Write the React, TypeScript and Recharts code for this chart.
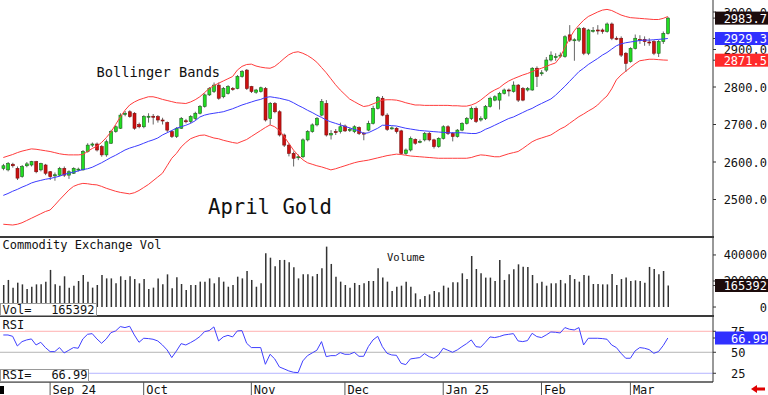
import React from "react";
import { ComposedChart, Bar, Line, XAxis, YAxis, ReferenceLine } from "recharts";

// daily April gold futures, Aug 2024 - Mar 2025
const OPEN = [
  2583, 2579, 2594, 2583, 2561, 2590, 2592, 2601, 2579, 2592,
  2574, 2563, 2565, 2583, 2565, 2570, 2579, 2579, 2628, 2645,
  2648, 2641, 2619, 2650, 2681, 2690, 2727, 2734, 2730, 2700,
  2694, 2721, 2722, 2721, 2712, 2705, 2681, 2668, 2690, 2710,
  2708, 2716, 2730, 2748, 2779, 2788, 2805, 2774, 2783, 2796,
  2796, 2828, 2845, 2801, 2786, 2788, 2796, 2716, 2756, 2734,
  2672, 2645, 2623, 2612, 2614, 2659, 2681, 2699, 2725, 2756,
  2672, 2681, 2681, 2696, 2685, 2681, 2692, 2677, 2685, 2703,
  2743, 2770, 2725, 2689, 2690, 2683, 2623, 2632, 2660, 2653,
  2659, 2676, 2659, 2641, 2663, 2694, 2676, 2668, 2685, 2703,
  2716, 2743, 2712, 2716, 2748, 2765, 2765, 2783, 2792, 2788,
  2805, 2796, 2792, 2792, 2850, 2836, 2845, 2872, 2880, 2883,
  2881, 2939, 2925, 2925, 2956, 2890, 2950, 2952, 2952, 2948,
  2968, 2930, 2930, 2890, 2868, 2903, 2927, 2927, 2920, 2921,
  2890, 2921, 2943,
];
const HIGH = [
  2595, 2600, 2598, 2588, 2592, 2600, 2603, 2603, 2598, 2595,
  2576, 2572, 2587, 2588, 2578, 2586, 2585, 2632, 2650, 2652,
  2652, 2645, 2660, 2686, 2698, 2730, 2736, 2738, 2733, 2705,
  2725, 2730, 2728, 2725, 2718, 2708, 2685, 2693, 2720, 2715,
  2725, 2734, 2752, 2783, 2800, 2812, 2812, 2800, 2805, 2800,
  2832, 2845, 2848, 2803, 2795, 2801, 2800, 2760, 2760, 2738,
  2676, 2650, 2628, 2620, 2663, 2685, 2703, 2720, 2768, 2765,
  2685, 2688, 2705, 2700, 2692, 2698, 2695, 2680, 2710, 2750,
  2776, 2776, 2730, 2695, 2693, 2686, 2636, 2668, 2663, 2660,
  2680, 2680, 2662, 2666, 2698, 2698, 2680, 2688, 2706, 2720,
  2748, 2748, 2722, 2752, 2774, 2778, 2787, 2796, 2796, 2815,
  2808, 2800, 2800, 2853, 2855, 2845, 2880, 2895, 2890, 2892,
  2938, 2965, 2930, 2960, 2960, 2955, 2960, 2965, 2956, 2972,
  2972, 2935, 2935, 2893, 2906, 2940, 2938, 2935, 2930, 2925,
  2926, 2948, 2987,
];
const LOW = [
  2578, 2575, 2585, 2552, 2558, 2586, 2588, 2570, 2575, 2565,
  2552, 2550, 2562, 2560, 2555, 2568, 2575, 2577, 2625, 2640,
  2628, 2614, 2614, 2648, 2678, 2688, 2722, 2718, 2686, 2690,
  2690, 2705, 2700, 2705, 2700, 2680, 2664, 2664, 2688, 2703,
  2703, 2712, 2727, 2745, 2776, 2784, 2766, 2770, 2780, 2790,
  2794, 2825, 2792, 2784, 2782, 2785, 2708, 2699, 2730, 2668,
  2640, 2615, 2588, 2605, 2610, 2655, 2678, 2695, 2722, 2668,
  2660, 2672, 2676, 2680, 2680, 2677, 2672, 2658, 2682, 2700,
  2740, 2722, 2683, 2686, 2676, 2620, 2619, 2628, 2646, 2650,
  2655, 2655, 2636, 2638, 2660, 2672, 2655, 2665, 2682, 2700,
  2712, 2704, 2708, 2712, 2745, 2762, 2740, 2780, 2775, 2785,
  2760, 2762, 2788, 2790, 2800, 2830, 2840, 2868, 2870, 2878,
  2878, 2920, 2870, 2920, 2885, 2885, 2945, 2940, 2942, 2945,
  2925, 2925, 2880, 2840, 2865, 2900, 2915, 2910, 2910, 2885,
  2880, 2915, 2940,
];
const CLOSE = [
  2590, 2596, 2590, 2557, 2588, 2595, 2601, 2574, 2596, 2570,
  2561, 2566, 2583, 2565, 2574, 2583, 2581, 2628, 2645, 2648,
  2632, 2619, 2654, 2681, 2694, 2725, 2730, 2721, 2690, 2694,
  2721, 2722, 2720, 2712, 2710, 2685, 2668, 2690, 2716, 2708,
  2721, 2730, 2748, 2779, 2796, 2805, 2770, 2796, 2801, 2794,
  2828, 2841, 2796, 2788, 2792, 2798, 2712, 2756, 2734, 2672,
  2645, 2623, 2610, 2614, 2659, 2681, 2699, 2716, 2761, 2672,
  2676, 2679, 2694, 2683, 2687, 2694, 2676, 2676, 2703, 2743,
  2772, 2725, 2687, 2691, 2681, 2623, 2632, 2663, 2650, 2655,
  2676, 2659, 2641, 2663, 2694, 2676, 2668, 2685, 2703, 2716,
  2743, 2708, 2716, 2748, 2770, 2774, 2783, 2792, 2790, 2805,
  2765, 2765, 2796, 2850, 2828, 2838, 2872, 2885, 2881, 2885,
  2934, 2925, 2926, 2956, 2890, 2952, 2951, 2950, 2948, 2968,
  2930, 2929, 2885, 2863, 2903, 2930, 2925, 2921, 2918, 2890,
  2921, 2943, 2983.7,
];
const UPPER = [
  2612, 2616, 2620, 2625, 2629, 2632, 2635, 2634, 2632, 2630,
  2628, 2625, 2622, 2620, 2619, 2619, 2619, 2620, 2628, 2636,
  2642, 2652, 2665, 2680, 2700, 2720, 2738, 2752, 2760, 2766,
  2770, 2774, 2774, 2771, 2767, 2764, 2761, 2758, 2757, 2756,
  2760, 2766, 2774, 2785, 2796, 2804, 2810, 2816, 2822, 2828,
  2845, 2855, 2860, 2861, 2856, 2853, 2851, 2850, 2855, 2865,
  2876, 2886, 2892, 2894, 2890, 2884, 2876, 2866, 2852, 2838,
  2822, 2806, 2792, 2780, 2768, 2761, 2754, 2748, 2750, 2755,
  2760, 2765, 2766, 2766, 2765, 2762, 2758, 2755, 2752, 2752,
  2751, 2751, 2751, 2751, 2751, 2751, 2750, 2750, 2749, 2749,
  2752, 2757, 2765, 2775, 2785, 2792, 2798, 2808, 2816, 2822,
  2827, 2832, 2836, 2841, 2846, 2850, 2855, 2860, 2864, 2880,
  2905, 2930, 2950, 2965, 2978, 2988, 2994, 3000, 3005, 3007,
  3004, 2998, 2992, 2988, 2985, 2984, 2983, 2982, 2981, 2980,
  2980, 2983, 2988,
];
const MIDDLE = [
  2511, 2516, 2522, 2527, 2533, 2538, 2544, 2548, 2551, 2554,
  2556, 2559, 2562, 2567, 2570, 2573, 2576, 2580, 2582, 2586,
  2592, 2598, 2605, 2612, 2618, 2625, 2632, 2637, 2641, 2645,
  2650, 2655, 2659, 2664, 2672, 2678, 2684, 2690, 2694, 2698,
  2703, 2710, 2720, 2725, 2728, 2730, 2732, 2734, 2738, 2742,
  2747, 2752, 2756, 2760, 2764, 2767, 2772, 2774, 2772, 2770,
  2767, 2764, 2758, 2751, 2745, 2738, 2732, 2725, 2719, 2712,
  2707, 2703, 2699, 2695, 2691, 2687, 2683, 2676, 2678, 2684,
  2690, 2698, 2698, 2697, 2696, 2693, 2690, 2688, 2686, 2684,
  2683, 2682, 2681, 2680, 2679, 2678, 2678, 2678, 2678, 2677,
  2676, 2676, 2680, 2687, 2692, 2698, 2704, 2710, 2716, 2720,
  2726, 2732, 2738, 2743, 2750, 2756, 2762, 2768, 2778, 2790,
  2802, 2815, 2828, 2841, 2850, 2860, 2868, 2876, 2885, 2892,
  2901, 2910, 2915, 2918, 2920, 2922, 2924, 2925, 2925, 2926,
  2927, 2928, 2929.3,
];
const LOWER = [
  2434, 2433, 2432, 2434, 2438, 2444, 2450, 2456, 2462, 2468,
  2472, 2485, 2499, 2512, 2525, 2535, 2540, 2543, 2542, 2540,
  2539, 2535, 2530, 2526, 2522, 2519, 2517, 2515, 2518, 2524,
  2532, 2540, 2550, 2560, 2570, 2590, 2610, 2623, 2640, 2652,
  2662, 2667, 2671, 2672, 2668, 2664, 2662, 2658, 2655, 2652,
  2650, 2655, 2660, 2668, 2676, 2684, 2692, 2699, 2694, 2684,
  2668, 2650, 2632, 2618, 2606, 2598, 2594, 2590, 2587, 2583,
  2579, 2582, 2586, 2590, 2594, 2598, 2601, 2603, 2605, 2608,
  2611, 2614, 2617, 2619, 2621, 2620, 2618, 2616, 2615, 2614,
  2613, 2612, 2611, 2610, 2610, 2610, 2610, 2610, 2610, 2610,
  2612, 2616, 2619, 2618, 2616, 2614, 2614, 2618, 2622, 2625,
  2628, 2636, 2645, 2654, 2660, 2664, 2668, 2672, 2680, 2688,
  2694, 2703, 2712, 2721, 2728, 2736, 2743, 2752, 2765, 2776,
  2795, 2819, 2832, 2842, 2852, 2862, 2870, 2872, 2874, 2874,
  2873, 2872, 2871.5,
];
const VOLUME = [
  169000, 208000, 149000, 187000, 174000, 138000, 156000, 174000, 174000, 195000,
  285000, 174000, 164000, 236000, 149000, 164000, 200000, 246000, 195000, 149000,
  169000, 246000, 220000, 220000, 182000, 236000, 208000, 236000, 215000, 182000,
  215000, 138000, 149000, 220000, 174000, 251000, 144000, 228000, 177000, 131000,
  169000, 169000, 195000, 195000, 220000, 182000, 228000, 195000, 156000, 169000,
  233000, 220000, 277000, 208000, 156000, 182000, 413000, 379000, 313000, 362000,
  362000, 344000, 305000, 220000, 251000, 251000, 236000, 254000, 297000, 464000,
  331000, 233000, 195000, 169000, 149000, 185000, 169000, 182000, 200000, 200000,
  297000, 226000, 195000, 123000, 156000, 164000, 195000, 156000, 105000, 59000,
  85000, 97000, 123000, 113000, 164000, 149000, 190000, 190000, 259000, 215000,
  392000, 292000, 259000, 226000, 226000, 200000, 362000, 208000, 251000, 290000,
  328000, 310000, 308000, 246000, 182000, 195000, 164000, 182000, 182000, 208000,
  182000, 246000, 215000, 195000, 246000, 241000, 177000, 177000, 174000, 174000,
  254000, 169000, 215000, 226000, 200000, 205000, 200000, 187000, 308000, 292000,
  251000, 277000, 165392,
];
const RSI = [
  70.6, 70.6, 69, 57.5, 62.7, 64.7, 65.9, 58.7, 61.9, 55.6,
  50.8, 50.8, 55.6, 49.2, 52.4, 55.6, 54.8, 65.9, 71.4, 72.2,
  65.9, 60.7, 65.9, 73.4, 75.4, 80.6, 79.4, 81, 70.6, 61.9,
  66.7, 66.3, 65.5, 63.5, 58.7, 52.8, 43.7, 51.6, 60.3, 58.7,
  61.5, 64.7, 68.7, 74.6, 75.8, 80.2, 63.5, 68.3, 70.2, 68.3,
  75.4, 75.8, 60.7, 55.6, 55.6, 55.6, 35.7, 47.6, 42.1, 32.5,
  30.2, 27.8, 26.2, 25.8, 39.7, 46, 49.2, 52.4, 62.7, 44.8,
  46, 46, 49.6, 47.6, 47.6, 50, 45.2, 45.2, 56.7, 64.7,
  69, 56.7, 48.8, 46.8, 46.4, 36.9, 35.3, 42.1, 42.9, 43.7,
  48.4, 44.8, 42.9, 46.8, 54.8, 52.4, 50, 52.8, 56.7, 60.3,
  64.7, 56.7, 56, 61.9, 68.3, 67.5, 68.7, 70.6, 71.4, 72.2,
  63.5, 62.7, 63.9, 72.6, 68.7, 67.5, 70.6, 74.2, 73.8, 73,
  79.4, 77.4, 76.6, 79.4, 58.7, 66.7, 66.7, 66.7, 66.3, 65.5,
  58.7, 55.6, 48.8, 42.9, 42.9, 51.6, 55.6, 54.8, 53.2, 48.8,
  50.8, 57.9, 66.99,
];

// index of first session of each month
const MONTH_TICKS = [10, 30, 53, 73, 94, 115, 134];
const MONTH_LABELS = ["Sep 24", "Oct", "Nov", "Dec", "Jan 25", "Feb", "Mar"];
const PRICE_TICKS = [2500, 2600, 2700, 2800, 2900, 3000];
const PRICE_TAGS = [2983.7, 2929.3, 2871.5];
const VOL_TICKS = [0, 200000, 400000];
const VOL_TAGS = [165392];
const RSI_TICKS = [25, 50, 75];
const RSI_TAGS = [66.99];

const data = OPEN.map((o, i) => ({
  i,
  open: o,
  high: HIGH[i],
  low: LOW[i],
  close: CLOSE[i],
  upper: UPPER[i],
  middle: MIDDLE[i],
  lower: LOWER[i],
  volume: VOLUME[i],
  rsi: RSI[i],
}));

const FONT = "'DejaVu Sans Mono', monospace";
const X_DOMAIN: [number, number] = [-0.705, 151.65];
const PRICE_DOMAIN: [number, number] = [2400, 3032];
const VOL_DOMAIN: [number, number] = [-69000, 538000];
const RSI_DOMAIN: [number, number] = [14.6, 93.2];
const MARGIN = { top: 0, right: 0, bottom: 0, left: 0 };
const BAND_RED = "#ff3c3c";
const MID_BLUE = "#3c3cff";

// evenly spaced minor tick marks for the axis edges
const steps = (lo: number, hi: number, step: number) => {
  const out: number[] = [];
  for (let v = Math.ceil(lo / step) * step; v <= hi; v += step) out.push(v);
  return out;
};

const Empty = () => <g />;

function Candle(props: any) {
  const { x, y, width, height, payload } = props;
  if (x == null || y == null) return null;
  const top = Math.min(y, y + height);
  const bot = Math.max(y, y + height);
  const span = payload.high - payload.low || 1;
  const py = (p: number) => top + ((payload.high - p) / span) * (bot - top);
  const up = payload.close >= payload.open;
  const bTop = py(Math.max(payload.open, payload.close));
  const bBot = py(Math.min(payload.open, payload.close));
  const cx = x + width / 2;
  return (
    <g>
      <line x1={cx} x2={cx} y1={top} y2={bot} stroke="#666" strokeWidth={1} />
      <rect
        x={x}
        y={bTop}
        width={width}
        height={Math.max(1, bBot - bTop)}
        fill={up ? "#22dd22" : "#cc1010"}
        stroke={up ? "#1f5f1f" : "#7a1010"}
        strokeWidth={0.6}
      />
    </g>
  );
}

function axisTick(tags: number[], colors: string[], fmt: (v: number) => string, tagFmt: (v: number) => string, anchor: "start" | "end", lx: number) {
  return (props: any) => {
    const { y, payload } = props;
    const v = payload.value;
    const k = tags.indexOf(v);
    if (k >= 0) {
      return (
        <g>
          <rect x={715} y={y - 6.5} width={53} height={13} fill={colors[k]} />
          <text x={anchor === "end" ? 767 : lx} y={y + 4.5} textAnchor={anchor} fill="#fff" fontSize={12} fontFamily={FONT}>
            {tagFmt(v)}
          </text>
        </g>
      );
    }
    return (
      <text x={lx} y={y + 4.5} textAnchor={anchor} fill="#111" fontSize={12} fontFamily={FONT}>
        {fmt(v)}
      </text>
    );
  };
}

function DateTick(props: any) {
  const { x, payload } = props;
  const k = MONTH_TICKS.indexOf(payload.value);
  return (
    <g>
      <line x1={x} x2={x} y1={66} y2={79} stroke="#555" />
      <text x={x + 2.5} y={77.5} fill="#111" fontSize={12} fontFamily={FONT}>
        {MONTH_LABELS[k]}
      </text>
    </g>
  );
}

// thin tick rulers on both edges of a panel
function edgeAxes(domain: [number, number], leftStep: number, rightStep: number) {
  return [
    <YAxis
      key="minR"
      yAxisId="minR"
      orientation="right"
      width={0}
      mirror
      domain={domain}
      allowDataOverflow
      ticks={steps(domain[0], domain[1], rightStep)}
      interval={0}
      tickSize={2}
      tickLine={{ stroke: "#444" }}
      axisLine={false}
      tick={<Empty />}
    />,
    <YAxis
      key="minL"
      yAxisId="minL"
      orientation="left"
      width={0}
      mirror
      domain={domain}
      allowDataOverflow
      ticks={steps(domain[0], domain[1], leftStep)}
      interval={0}
      tickSize={3}
      tickLine={{ stroke: "#999" }}
      axisLine={false}
      tick={<Empty />}
    />,
  ];
}

function PriceChart() {
  return (
    <ComposedChart width={768} height={237} data={data} margin={MARGIN}>
      <XAxis dataKey="i" type="number" domain={X_DOMAIN} allowDataOverflow hide />
      {edgeAxes(PRICE_DOMAIN, 20, 10)}
      <YAxis
        orientation="right"
        width={55}
        domain={PRICE_DOMAIN}
        allowDataOverflow
        ticks={[...PRICE_TICKS, ...PRICE_TAGS]}
        interval={0}
        tickSize={3}
        tickLine={{ stroke: "#333" }}
        axisLine={{ stroke: "#333" }}
        tick={axisTick(PRICE_TAGS, ["#1c0c0c", "#3030ff", "#ff2a2a"], (v) => v.toFixed(1), (v) => v.toFixed(1), "end", 767)}
      />
      <Line dataKey="upper" stroke={BAND_RED} strokeWidth={1} dot={false} activeDot={false} isAnimationActive={false} />
      <Line dataKey="lower" stroke={BAND_RED} strokeWidth={1} dot={false} activeDot={false} isAnimationActive={false} />
      <Line dataKey="middle" stroke={MID_BLUE} strokeWidth={1} dot={false} activeDot={false} isAnimationActive={false} />
      <Bar dataKey={(d: any) => [d.low, d.high]} barSize={3} shape={(p: any) => <Candle {...p} />} activeBar={false} isAnimationActive={false} />
    </ComposedChart>
  );
}

function VolumeChart() {
  return (
    <ComposedChart width={768} height={79} data={data} margin={MARGIN}>
      <XAxis dataKey="i" type="number" domain={X_DOMAIN} allowDataOverflow hide />
      {edgeAxes(VOL_DOMAIN, 50000, 50000)}
      <YAxis
        orientation="right"
        width={55}
        domain={VOL_DOMAIN}
        allowDataOverflow
        ticks={[...VOL_TICKS, ...VOL_TAGS]}
        interval={0}
        tickSize={3}
        tickLine={{ stroke: "#333" }}
        axisLine={{ stroke: "#333" }}
        tick={axisTick(VOL_TAGS, ["#1c0c0c"], (v) => String(v), (v) => String(v), "end", 767)}
      />
      <Bar dataKey="volume" fill="#333" barSize={1.5} activeBar={false} isAnimationActive={false} />
    </ComposedChart>
  );
}

function RsiChart() {
  return (
    <ComposedChart width={768} height={79} data={data} margin={MARGIN}>
      <XAxis
        dataKey="i"
        type="number"
        domain={X_DOMAIN}
        allowDataOverflow
        ticks={MONTH_TICKS}
        interval={0}
        height={13}
        tickLine={false}
        axisLine={{ stroke: "#444", strokeWidth: 1.5 }}
        tick={(p: any) => <DateTick {...p} />}
      />
      {edgeAxes(RSI_DOMAIN, 5, 5)}
      <YAxis
        orientation="right"
        width={55}
        domain={RSI_DOMAIN}
        allowDataOverflow
        ticks={[...RSI_TICKS, ...RSI_TAGS]}
        interval={0}
        tickSize={3}
        tickLine={{ stroke: "#333" }}
        axisLine={{ stroke: "#333" }}
        tick={axisTick(RSI_TAGS, ["#3030ff"], (v) => String(v), (v) => v.toFixed(2), "start", 731)}
      />
      <ReferenceLine y={75} stroke="#ffb0b0" />
      <ReferenceLine y={50} stroke="#b4b4b4" />
      <ReferenceLine y={25} stroke="#b4b4ff" />
      <Line dataKey="rsi" stroke="#4040ff" strokeWidth={1} dot={false} activeDot={false} isAnimationActive={false} />
    </ComposedChart>
  );
}

export default function App() {
  const txt = { fill: "#111", fontFamily: FONT };
  return (
    <div style={{ position: "fixed", left: 0, top: 0, width: 768, height: 395, background: "#fff", overflow: "hidden" }}>
      <div style={{ position: "absolute", left: 0, top: 0 }}>
        <PriceChart />
      </div>
      <div style={{ position: "absolute", left: 0, top: 237 }}>
        <VolumeChart />
      </div>
      <div style={{ position: "absolute", left: 0, top: 316 }}>
        <RsiChart />
      </div>
      <svg width={768} height={395} style={{ position: "absolute", left: 0, top: 0, pointerEvents: "none" }}>
        <line x1={0} x2={714} y1={237} y2={237} stroke="#3a3a3a" strokeWidth={2} />
        <line x1={0} x2={714} y1={316} y2={316} stroke="#3a3a3a" strokeWidth={2} />
        <text x={96.5} y={76.5} fontSize={13.7} {...txt}>Bollinger Bands</text>
        <text x={208} y={214.3} fontSize={20.6} {...txt}>April Gold</text>
        <text x={2.5} y={248.8} fontSize={12} {...txt}>Commodity Exchange Vol</text>
        <text x={387} y={260.5} fontSize={10.5} {...txt}>Volume</text>
        <rect x={0.5} y={303.5} width={96} height={12} fill="#fff" stroke="#999" />
        <text x={2.5} y={313.5} fontSize={12} {...txt}>Vol=</text>
        <text x={94.5} y={313.5} fontSize={12} textAnchor="end" {...txt}>165392</text>
        <rect x={0} y={317} width={25} height={14} fill="#fff" />
        <text x={2.5} y={329.3} fontSize={12} {...txt}>RSI</text>
        <rect x={0.5} y={369.5} width={88} height={12} fill="#fff" stroke="#999" />
        <text x={2.5} y={378.5} fontSize={12} {...txt}>RSI=</text>
        <text x={87.5} y={378.5} fontSize={12} textAnchor="end" {...txt}>66.99</text>
        <rect x={0} y={386} width={4} height={8} fill="#000" />
        <polygon points="751,389 757,385 757,387.5 765,387.5 765,390.5 757,390.5 757,393" fill="#e00000" />
      </svg>
    </div>
  );
}
